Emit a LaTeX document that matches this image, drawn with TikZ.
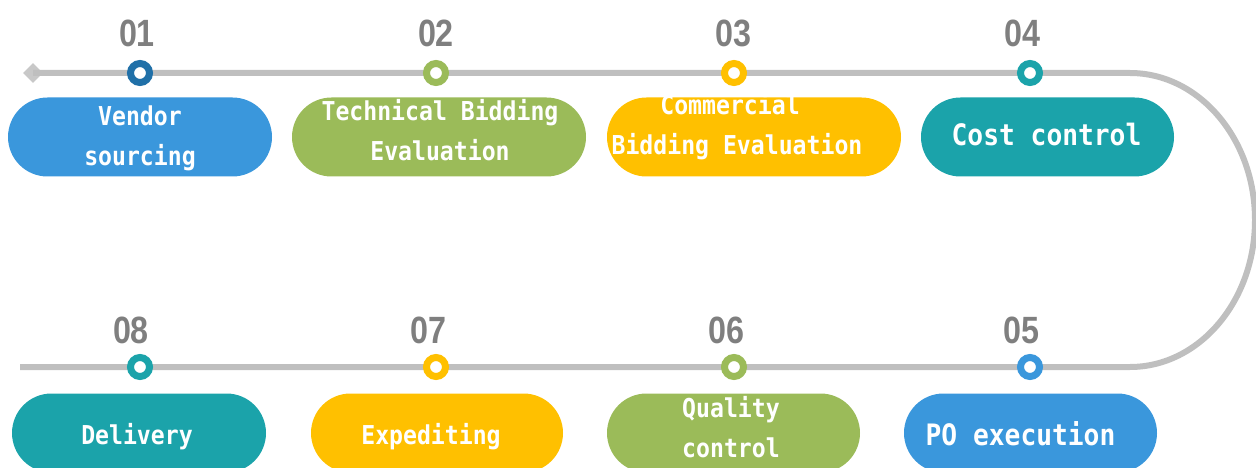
\documentclass[tikz,border=0pt]{standalone}
\usepackage{fontspec}
\usetikzlibrary{shapes.geometric,shapes.misc}
\newfontfamily\pillfont[FakeStretch=0.89]{DejaVu Sans Mono}
\newfontfamily\numfont[FakeStretch=0.85]{Liberation Sans}
\definecolor{cblue}{HTML}{3A97DC}
\definecolor{cdblue}{HTML}{2070A8}
\definecolor{cgreen}{HTML}{9BBB59}
\definecolor{cgold}{HTML}{FFC000}
\definecolor{cteal}{HTML}{1BA3AA}
\definecolor{linegray}{HTML}{BFBFBF}
\definecolor{numgray}{HTML}{7F7F7F}
\definecolor{diagray}{HTML}{C8C8C8}
\begin{document}
\begin{tikzpicture}[x=1pt,y=-1pt,
  pill/.style={rounded rectangle, minimum height=79pt, inner sep=0pt, draw=none},
  ptext/.style={text=white, font=\pillfont\bfseries\fontsize{26}{40}\selectfont, align=center, inner sep=0pt},
  bigtext/.style={ptext, font=\pillfont\bfseries\fontsize{29.5}{40}\selectfont},
  num/.style={text=numgray, font=\numfont\bfseries\fontsize{38}{40}\selectfont, inner sep=0pt},
  dot/.style={circle, draw=#1, line width=7pt, fill=white, minimum size=19pt, inner sep=0pt},
  track/.style={draw=linegray, line width=6pt},
  startmark/.style={diamond, fill=diagray, minimum size=20pt, inner sep=0pt}]
\useasboundingbox (0,0) rectangle (1256,468);

% track
\node[startmark] (start) at (33,73) {};
\coordinate (topend) at (1130,73);
\coordinate (botend) at (1130,367);
\coordinate (botstart) at (20,367);
\draw[track] (start.center) -- (topend) arc[start angle=-90, end angle=90, x radius=125, y radius=147] -- (botstart);

% dots
\node[dot=cdblue] (d1) at (140,73) {};
\node[dot=cgreen] (d2) at (436,73) {};
\node[dot=cgold]  (d3) at (734,73) {};
\node[dot=cteal]  (d4) at (1030,73) {};
\node[dot=cblue]  (d5) at (1030,367) {};
\node[dot=cgreen] (d6) at (734,367) {};
\node[dot=cgold]  (d7) at (436,367) {};
\node[dot=cteal]  (d8) at (140,367) {};

% numbers
\node[num] (n1) at (137,33) {01};
\node[num] (n2) at (436,33) {02};
\node[num] (n3) at (733,33) {03};
\node[num] (n4) at (1022,33) {04};
\node[num] (n5) at (1021,330) {05};
\node[num] (n6) at (726,330) {06};
\node[num] (n7) at (428,330) {07};
\node[num] (n8) at (131,330) {08};

% pills
\node[pill, fill=cblue,  minimum width=264pt] (p1) at (140,137) {};
\node[pill, fill=cgreen, minimum width=294pt] (p2) at (439,137) {};
\node[pill, fill=cgold,  minimum width=294pt] (p3) at (754,137) {};
\node[pill, fill=cteal,  minimum width=253pt] (p4) at (1047.5,137) {};
\node[pill, fill=cblue,  minimum width=253pt] (p5) at (1030.5,433) {};
\node[pill, fill=cgreen, minimum width=253pt] (p6) at (733.5,433) {};
\node[pill, fill=cgold,  minimum width=252pt] (p7) at (437,433) {};
\node[pill, fill=cteal,  minimum width=254pt] (p8) at (139,433) {};

% pill texts
\node[ptext] (t1) at (140,138) {Vendor\\sourcing};
\node[ptext] (t2) at (440,130) {Technical Bidding\\Evaluation};
\node[ptext] (t3) at (737,127) {Commercial\hphantom{x}\\Bidding Evaluation};
\node[bigtext] (t4) at (1046.5,135) {Cost control};
\node[bigtext] (t5) at (1020.5,433.5) {PO execution};
\node[ptext] (t6) at (731,427) {Quality\\control};
\node[ptext] (t7) at (431,437) {Expediting};
\node[ptext] (t8) at (137,437) {Delivery};
\end{tikzpicture}
\end{document}
